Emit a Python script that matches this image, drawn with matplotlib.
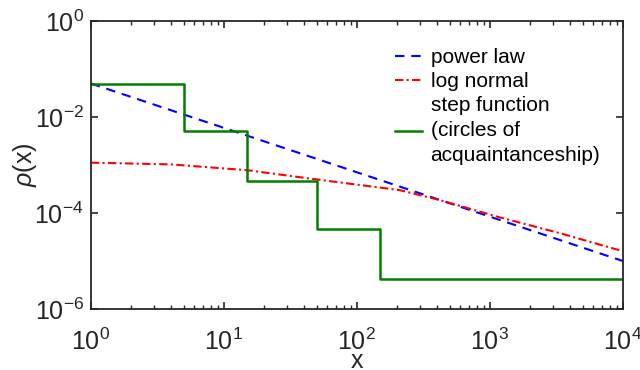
import numpy as np
import matplotlib
matplotlib.use('Agg')
import matplotlib.pyplot as plt
from matplotlib.ticker import LogLocator, NullLocator

plt.rcParams['font.family'] = ['Liberation Sans', 'DejaVu Sans']
plt.rcParams['mathtext.fontset'] = 'custom'
plt.rcParams['mathtext.rm'] = 'Liberation Sans'
plt.rcParams['mathtext.it'] = 'Liberation Sans:italic'
plt.rcParams['axes.unicode_minus'] = False

# power law (straight line on log-log axes)
pow_x = [1, 1e4]
pow_y = [0.05, 1e-5]

# log normal
ln_x = [1, 4, 15, 50, 210, 421, 1190, 3360, 1e4]
ln_y = [1.12e-3, 1.03e-3, 7.8e-4, 5.0e-4, 3.0e-4, 1.86e-4, 8.1e-5, 3.8e-5, 1.6e-5]

# step function, circles of acquaintanceship
step_x = [1, 5, 15, 50, 150, 1e4]
step_y = [0.05, 0.005, 4.7e-4, 4.6e-5, 4.2e-6, 4.2e-6]

fig = plt.figure(figsize=(6.4, 3.7), dpi=100)
ax = fig.add_axes([0.142, 0.165, 0.831, 0.778])

ax.plot(pow_x, pow_y, color='blue', lw=1.5, dashes=(4.5, 3.3), label='power law')
ax.plot(ln_x, ln_y, color='red', lw=1.5, dashes=(4, 1.6, 1, 1.6), label='log normal')
ax.step(step_x, step_y, where='post', color='green', lw=1.8,
        label='step function\n(circles of\nacquaintanceship)')

ax.set_xscale('log')
ax.set_yscale('log')
ax.set_xlim(1, 1e4)
ax.set_ylim(1e-6, 1)
ax.set_yticks([1e-6, 1e-4, 1e-2, 1])
ax.yaxis.set_minor_locator(NullLocator())
ax.xaxis.set_minor_locator(LogLocator(base=10, subs=np.arange(2, 10)))

ax.tick_params(which='both', direction='in', top=True, right=True,
               color='#262626', labelcolor='#262626', labelsize=18)
ax.tick_params(axis='x', which='major', pad=14)
ax.tick_params(axis='y', which='major', pad=5)
ax.tick_params(which='major', length=5, width=1.2)
ax.tick_params(which='minor', length=3, width=1.0)
for s in ax.spines.values():
    s.set_linewidth(1.3)
    s.set_color('#262626')

ax.set_xlabel('x', fontsize=18, color='#262626', labelpad=-4)
ax.set_ylabel(r'$\it{\rho}$(x)', fontsize=18, color='#262626', labelpad=-3)

leg = ax.legend(loc='upper left', frameon=False, fontsize=15, handlelength=1.3,
                handletextpad=0.43, labelspacing=0.22, borderpad=0, borderaxespad=0,
                bbox_to_anchor=(0.571, 0.905))
for t in leg.get_texts():
    t.set_linespacing(1.42)

fig.savefig('out.png', dpi=100)
